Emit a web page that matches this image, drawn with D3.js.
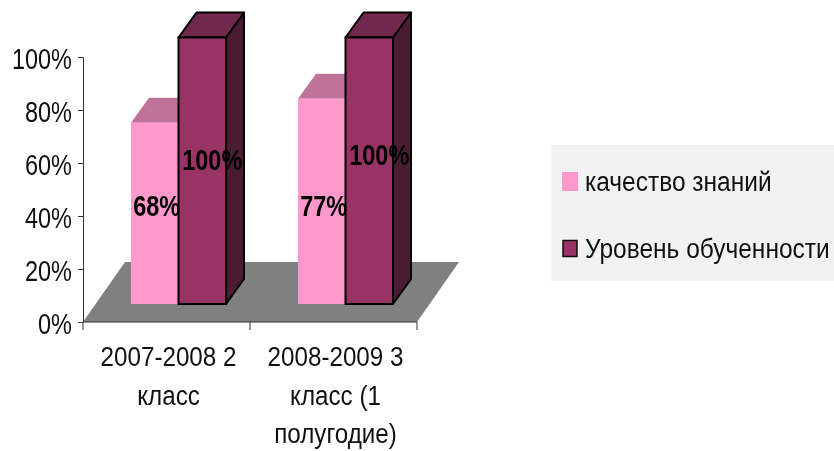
<!DOCTYPE html>
<html><head><meta charset="utf-8">
<script src="https://cdnjs.cloudflare.com/ajax/libs/d3/7.8.5/d3.min.js"></script>
<style>
html,body{margin:0;padding:0;background:#fff}
svg{display:block;filter:blur(0.4px)}
text{font-family:"Liberation Sans",Arial,sans-serif;fill:#111}
</style></head><body>
<svg id="c" width="834" height="451"></svg>
<script>
const categories = ["2007-2008 2 класс", "2008-2009 3 класс (1 полугодие)"];
const categoryLines = [["2007-2008 2", "класс"], ["2008-2009 3", "класс (1", "полугодие)"]];
const seriesNames = ["качество знаний", "Уровень обученности"];
const quality = [68, 77];
const level = [100, 100];
const yTicks = [0, 20, 40, 60, 80, 100];
const fills = {front:["#ff99cc","#993366"], top:["#c0739a","#70294d"], side:["#e080b0","#4a1c33"]};

const svg = d3.select("#c");
const yAxisScale = d3.scaleLinear().domain([0,100]).range([322,57]);
const yFront = d3.scaleLinear().domain([0,100]).range([304,37.5]);
const x = d3.scaleBand().domain(categories).range([83,417]);
const inner = d3.scaleBand().domain([0,1]).range([48,143]);
const depth = {dx:18, dy:-25};
const floorD = {dx:42, dy:-60};

// floor
const fx0 = x.range()[0], fx1 = x.range()[1], fy = yAxisScale(0);
svg.append("polygon").attr("fill","#808080")
  .attr("points",[[fx0,fy],[fx1,fy],[fx1+floorD.dx,fy+floorD.dy],[fx0+floorD.dx,fy+floorD.dy]].join(" "));

// axes
const gy = svg.append("g").attr("transform",`translate(${fx0},0)`)
  .call(d3.axisLeft(yAxisScale).tickValues(yTicks).tickFormat(d=>d+"%").tickSize(5));
gy.selectAll("path,line").attr("stroke","#333").attr("stroke-width",1);
gy.selectAll("text").attr("font-size",29).attr("fill","#111").attr("dy",null).attr("x",0).attr("y",0)
  .attr("transform","translate(-11,11) scale(0.81,1)");

const edges = categories.map(c=>x(c)).concat([fx1]);
svg.append("g").selectAll("line").data(edges).join("line")
  .attr("x1",d=>d).attr("x2",d=>d).attr("y1",fy).attr("y2",fy+8).attr("stroke","#333");
svg.append("line").attr("x1",fx0).attr("x2",fx1).attr("y1",fy).attr("y2",fy).attr("stroke","#333");

// bars
[quality, level].forEach((vals,s)=>{
  vals.forEach((v,i)=>{
    const x0 = x(categories[i]) + inner(s), w = inner.bandwidth(), y0 = yFront(0), y1 = yFront(v);
    const g = svg.append("g");
    const st = s===1 ? {stroke:"#000", w:2} : {stroke:"none", w:0};
    g.append("polygon").attr("fill",fills.side[s]).attr("stroke",st.stroke).attr("stroke-width",st.w).attr("stroke-linejoin","round")
      .attr("points",[[x0+w,y0],[x0+w,y1],[x0+w+depth.dx,y1+depth.dy],[x0+w+depth.dx,y0+depth.dy]].join(" "));
    g.append("polygon").attr("fill",fills.top[s]).attr("stroke",st.stroke).attr("stroke-width",st.w).attr("stroke-linejoin","round")
      .attr("points",[[x0,y1],[x0+w,y1],[x0+w+depth.dx,y1+depth.dy],[x0+depth.dx,y1+depth.dy]].join(" "));
    g.append("rect").attr("x",x0).attr("y",y1).attr("width",w).attr("height",y0-y1)
      .attr("fill",fills.front[s]).attr("stroke",st.stroke).attr("stroke-width",st.w);
  });
});

// data labels
const labelBase = [[216,216],[170,165]];
const labelShift = [2,10];
[quality, level].forEach((vals,s)=>{
  vals.forEach((v,i)=>{
    const cx = x(categories[i]) + inner(s) + inner.bandwidth()/2 + labelShift[s];
    svg.append("text").text(v+"%").attr("font-size",29).attr("font-weight","bold")
      .attr("text-anchor","middle").style("fill","#000")
      .attr("transform",`translate(${cx},${labelBase[s][i]}) scale(0.81,1)`);
  });
});

// category labels
categoryLines.forEach((lines,i)=>{
  const cx = x(categories[i]) + x.bandwidth()/2 + 2;
  lines.forEach((l,j)=>{
    svg.append("text").text(l).attr("font-size",28).attr("text-anchor","middle")
      .attr("transform",`translate(${cx},${366+j*38.5}) scale(0.865,1)`);
  });
});

// legend
svg.append("rect").attr("x",551).attr("y",145).attr("width",283).attr("height",136).attr("fill","#f2f2f2");
seriesNames.forEach((n,s)=>{
  const cy = 181 + s*67;
  svg.append("rect").attr("x",s?563:562).attr("y",s?cy-7.5:cy-9).attr("width",s?14:16).attr("height",s?16:19)
    .attr("fill",fills.front[s]).attr("stroke",s?"#111":"none").attr("stroke-width",s?1.5:0);
  svg.append("text").text(n).attr("font-size",28)
    .attr("transform",`translate(585,${cy+10}) scale(0.875,1)`);
});
</script>
</body></html>
